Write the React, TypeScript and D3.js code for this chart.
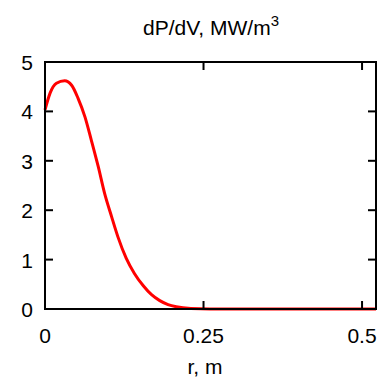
import React, { useEffect, useRef } from 'react'
import * as d3 from 'd3'

const radius = [0, 0.008, 0.018, 0.031, 0.042, 0.052, 0.063, 0.073, 0.084, 0.094, 0.105, 0.115, 0.128, 0.141, 0.155, 0.168, 0.181, 0.194, 0.207, 0.23, 0.26, 0.522]
const power = [4.03, 4.37, 4.57, 4.62, 4.53, 4.27, 3.89, 3.42, 2.88, 2.34, 1.87, 1.46, 1.03, 0.72, 0.47, 0.29, 0.17, 0.09, 0.045, 0.01, 0, 0]
const xTicks = [0, 0.25, 0.5]
const xTickLabels = ['0', '0.25', '0.5']
const yTicks = [0, 1, 2, 3, 4, 5]

const W = 383, H = 384
const margin = { top: 62, right: 7, bottom: 75, left: 45 }

export default function App() {
    const ref = useRef<SVGSVGElement>(null)

    useEffect(() => {
        const svg = d3.select(ref.current)
        svg.selectAll('*').remove()

        const x = d3.scaleLinear().domain([0, 0.522]).range([margin.left, W - margin.right])
        const y = d3.scaleLinear().domain([0, 5]).range([H - margin.bottom, margin.top])
        const font = 'Liberation Sans, Arial, sans-serif'
        const tick = 8

        const data = radius.map((r, i) => ({ r, v: power[i] }))

        const line = d3.line<{ r: number, v: number }>()
            .x(d => x(d.r))
            .y(d => y(d.v))
            .curve(d3.curveMonotoneX)

        svg.append('path')
            .datum(data)
            .attr('d', line)
            .attr('fill', 'none')
            .attr('stroke', '#ff0000')
            .attr('stroke-width', 3)

        const axes = svg.append('g').attr('stroke', '#000').attr('stroke-width', 2)

        // ticks, mirrored on top and right
        xTicks.forEach(t => {
            axes.append('line').attr('x1', x(t)).attr('x2', x(t)).attr('y1', y(0)).attr('y2', y(0) - tick)
            axes.append('line').attr('x1', x(t)).attr('x2', x(t)).attr('y1', y(5)).attr('y2', y(5) + tick)
        })
        yTicks.forEach(t => {
            axes.append('line').attr('x1', x.range()[0]).attr('x2', x.range()[0] + tick).attr('y1', y(t)).attr('y2', y(t))
            axes.append('line').attr('x1', x.range()[1]).attr('x2', x.range()[1] - tick).attr('y1', y(t)).attr('y2', y(t))
        })

        axes.append('rect')
            .attr('x', x.range()[0])
            .attr('y', y(5))
            .attr('width', x.range()[1] - x.range()[0])
            .attr('height', y(0) - y(5))
            .attr('fill', 'none')

        svg.append('g')
            .selectAll('text')
            .data(yTicks)
            .join('text')
            .attr('x', x.range()[0] - 12)
            .attr('y', d => y(d) + 8)
            .attr('text-anchor', 'end')
            .style('font-family', font)
            .style('font-size', '21px')
            .text(d => d)

        svg.append('g')
            .selectAll('text')
            .data(xTicks)
            .join('text')
            .attr('x', d => x(d))
            .attr('y', 343)
            .attr('text-anchor', 'middle')
            .style('font-family', font)
            .style('font-size', '21px')
            .text((d, i) => xTickLabels[i])

        svg.append('text')
            .attr('x', 205)
            .attr('y', 374)
            .attr('text-anchor', 'middle')
            .style('font-family', font)
            .style('font-size', '21px')
            .text('r, m')

        const title = svg.append('text')
            .attr('x', 211)
            .attr('y', 35)
            .attr('text-anchor', 'middle')
            .style('font-family', font)
            .style('font-size', '21px')
        title.append('tspan').text('dP/dV, MW/m')
        title.append('tspan').attr('dy', -9).style('font-size', '15px').text('3')
    }, [])

    return (
        <svg ref={ref} width={W} height={H} style={{ position: 'absolute', left: 0, top: 0, background: '#fff' }} />
    )
}
